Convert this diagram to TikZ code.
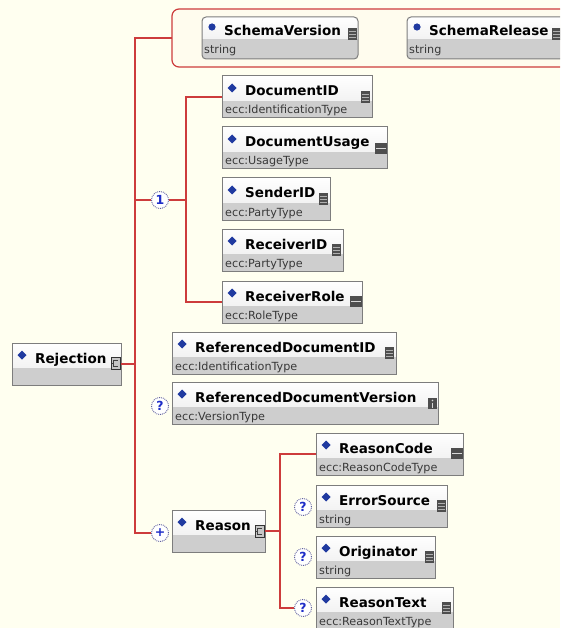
\documentclass[tikz,border=0pt]{standalone}
\usepackage{fontspec}
\setmainfont{DejaVu Sans}
\usetikzlibrary{fit}

\definecolor{paper}{RGB}{255,255,240}
\definecolor{groupfill}{RGB}{255,252,238}
\definecolor{wirered}{RGB}{205,60,60}
\definecolor{frame}{RGB}{125,125,125}
\definecolor{lowfill}{RGB}{206,206,206}
\definecolor{bulletblue}{RGB}{32,58,160}
\definecolor{icondark}{RGB}{78,78,78}
\definecolor{iconlight}{RGB}{175,175,175}
\definecolor{markblue}{RGB}{30,45,200}

\tikzset{
  wire/.style={draw=wirered, line width=1.2pt},
  boxframe/.style={draw=frame, line width=1pt},
  titletext/.style={font=\bfseries\fontsize{13.5}{14}\selectfont, inner sep=0pt, anchor=base west},
  typetext/.style={font=\fontsize{11.2}{12}\selectfont, text=black!78, inner sep=0pt, anchor=base west},
  marker/.style={circle, draw=gray!75!blue, densely dotted, fill=white, line width=0.9pt,
    minimum size=17pt, inner sep=0pt, text=markblue, font=\bfseries\fontsize{12.5}{12.5}\selectfont},
  holder/.style={inner sep=0pt, outer sep=0pt},
}

% element box: name, left, top, right, title, type
\newcommand{\elembox}[6]{%
  \shade[top color=white, bottom color=black!5] (#2,#3) rectangle (#4,{#3+25});
  \fill[lowfill] (#2,{#3+25}) rectangle (#4,{#3+42});
  \draw[boxframe] (#2,#3) rectangle (#4,{#3+42});
  \node[holder, fit={(#2,#3) (#4,{#3+42})}] (#1) {};
  \fill[bulletblue] ({#2+10},{#3+7.5}) -- ({#2+14.5},{#3+12}) -- ({#2+10},{#3+16.5}) -- ({#2+5.5},{#3+12}) -- cycle;
  \node[titletext] at ({#2+23},{#3+20}) {#5};
  \node[typetext] at ({#2+3},{#3+38}) {#6};
}

% attribute box: name, left, top, right, title, type
\newcommand{\attrbox}[6]{%
  \begin{scope}
    \clip[rounded corners=4pt] (#2,#3) rectangle (#4,{#3+42});
    \shade[top color=white, bottom color=black!5] (#2,#3) rectangle (#4,{#3+22});
    \fill[lowfill] (#2,{#3+22}) rectangle (#4,{#3+42});
  \end{scope}
  \draw[boxframe, rounded corners=4pt] (#2,#3) rectangle (#4,{#3+42});
  \node[holder, fit={(#2,#3) (#4,{#3+42})}] (#1) {};
  \fill[bulletblue] ({#2+10},{#3+10}) circle (3.6);
  \node[titletext] at ({#2+22},{#3+19}) {#5};
  \node[typetext] at ({#2+2},{#3+37}) {#6};
}

% icons, placed by their top right corner
\newcommand{\iconlist}[2]{%
  \fill[icondark] ({#1-9},#2) rectangle (#1,{#2+12});
  \foreach \k in {3,6,9}
    \draw[iconlight, line width=0.9pt] ({#1-8},{#2+\k}) -- ({#1-1},{#2+\k});
}
\newcommand{\iconminus}[2]{%
  \fill[icondark] ({#1-12},#2) rectangle (#1,{#2+11});
  \draw[white!85!black, line width=1.4pt] ({#1-11},{#2+5.5}) -- ({#1-1},{#2+5.5});
}
\newcommand{\iconinfo}[2]{%
  \fill[icondark] ({#1-9},#2) rectangle (#1,{#2+11});
  \fill[white!85!black] ({#1-4.5},{#2+2.5}) circle (0.9);
  \draw[white!85!black, line width=1.4pt] ({#1-4.5},{#2+4.5}) -- ({#1-4.5},{#2+9.5});
}
\newcommand{\iconseq}[2]{%
  \fill[gray!45, draw=gray!40!black, line width=0.6pt] ({#1-9},#2) rectangle (#1,{#2+12});
  \draw[black!75, line width=0.9pt] ({#1-2.5},{#2+3}) -- ({#1-6.5},{#2+3}) -- ({#1-6.5},{#2+9}) -- ({#1-2.5},{#2+9});
  \draw[black!75, line width=0.9pt] ({#1-6.5},{#2+6}) -- ({#1-8},{#2+6});
}

\begin{document}
\begin{tikzpicture}[x=1pt, y=-1pt]
  \useasboundingbox (0,0) rectangle (560,628);
  \clip (0,0) rectangle (560,628);
  \fill[paper] (0,0) rectangle (560,628);

  % attribute group
  \draw[wire, fill=groupfill, rounded corners=7pt] (172,9) rectangle (600,67);
  \node[holder, fit={(172,9) (600,67)}] (attrs) {};
  \attrbox{schemaversion}{202}{17}{358}{SchemaVersion}{string}
  \iconlist{357}{28}
  \attrbox{schemarelease}{407}{17}{566}{SchemaRelease}{string}
  \iconlist{561}{28}

  % root element
  \elembox{rejection}{12}{343}{121}{Rejection}{}
  \iconseq{120}{357}

  % sequence of header elements
  \elembox{docid}{222}{76}{372}{DocumentID}{ecc:IdentificationType}
  \iconlist{370}{91}
  \elembox{docusage}{222}{127}{387}{DocumentUsage}{ecc:UsageType}
  \iconminus{387}{143}
  \elembox{senderid}{222}{178}{330}{SenderID}{ecc:PartyType}
  \iconlist{328}{193}
  \elembox{receiverid}{222}{229}{343}{ReceiverID}{ecc:PartyType}
  \iconlist{341}{244}
  \elembox{recrole}{222}{281}{362}{ReceiverRole}{ecc:RoleType}
  \iconminus{362}{296}

  % referenced document
  \elembox{refdocid}{172}{332}{396}{ReferencedDocumentID}{ecc:IdentificationType}
  \iconlist{394}{347}
  \elembox{refdocver}{172}{382}{438}{ReferencedDocumentVersion}{ecc:VersionType}
  \iconinfo{437}{398}

  % reason
  \elembox{reason}{172}{510}{265}{Reason}{}
  \iconseq{264}{525}
  \elembox{rcode}{316}{433}{463}{ReasonCode}{ecc:ReasonCodeType}
  \iconminus{463}{448}
  \elembox{errsource}{316}{485}{447}{ErrorSource}{string}
  \iconlist{446}{500}
  \elembox{originator}{316}{536}{435}{Originator}{string}
  \iconlist{434}{551}
  \elembox{reasontext}{316}{587}{453}{ReasonText}{ecc:ReasonTextType}
  \iconlist{451}{602}

  % compositor and occurrence markers
  \node[marker] (seq1) at (160,200) {1};
  \node[marker] (optver) at (160,406) {?};
  \node[marker] (plus) at (160,533) {+};
  \node[marker] (optA) at (303,507) {?};
  \node[marker] (optB) at (303,557) {?};
  \node[marker] (optC) at (303,608) {?};

  % connectors
  \coordinate (tk) at (135,0);
  \coordinate (sq) at (186,0);
  \coordinate (rs) at (280,0);
  \draw[wire] (attrs.west) -| (tk |- plus) -- (plus);
  \draw[wire] (rejection.east) -- (tk |- rejection.east);
  \draw[wire] (tk |- seq1) -- (seq1) -- (sq |- seq1);
  \draw[wire] (docid.west) -| (sq |- recrole.west) -- (recrole.west);
  \draw[wire] (reason.east) -- (rs |- reason.east);
  \draw[wire] (rcode.west) -| (rs |- optC) -- (optC);
\end{tikzpicture}
\end{document}
